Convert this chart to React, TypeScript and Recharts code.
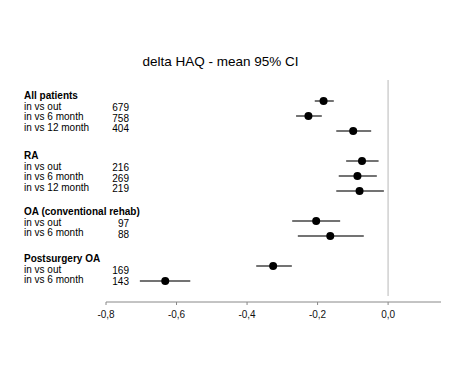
import { ErrorBar, ReferenceLine, Scatter, ScatterChart, XAxis, YAxis } from "recharts"

const groups = ["All patients", "RA", "OA (conventional rehab)", "Postsurgery OA"]
const groupSizes = [3, 3, 2, 2]
const comparisons = [
  "in vs out", "in vs 6 month", "in vs 12 month",
  "in vs out", "in vs 6 month", "in vs 12 month",
  "in vs out", "in vs 6 month",
  "in vs out", "in vs 6 month",
]
const counts = [679, 758, 404, 216, 269, 219, 97, 88, 169, 143]
const means = [-0.183, -0.226, -0.099, -0.074, -0.087, -0.081, -0.204, -0.164, -0.326, -0.632]
const lower = [-0.208, -0.261, -0.147, -0.119, -0.14, -0.147, -0.272, -0.256, -0.374, -0.704]
const upper = [-0.154, -0.188, -0.048, -0.027, -0.032, -0.012, -0.136, -0.069, -0.273, -0.561]
const xTicks = [-0.8, -0.6, -0.4, -0.2, 0]

// row index for each estimate, with a blank row between groups
const rowIndex: number[] = []
let r = 1
groupSizes.forEach((n) => {
  for (let i = 0; i < n; i++) rowIndex.push(r++)
  r++
})

const data = means.map((m, i) => ({
  mean: m,
  row: rowIndex[i],
  err: [m - lower[i], upper[i] - m],
}))

const W = 473
const H = 384
const font = "'Liberation Sans', Arial, sans-serif"
const headerY = [95, 155, 211, 258]

const Dot = (props: any) => <circle cx={props.cx} cy={props.cy} r={4} fill="#000" />

export default function App() {
  let k = 0
  const labels = groups.map((g, gi) => {
    const items = []
    for (let j = 0; j < groupSizes[gi]; j++) {
      const y = headerY[gi] + 10.5 * (j + 1) + 0.5
      items.push(
        <text key={"l" + k} x={24} y={y} dominantBaseline="central">
          {comparisons[k]}
        </text>,
        <text key={"n" + k} x={129} y={y + 1.5} textAnchor="end" dominantBaseline="central">
          {counts[k]}
        </text>
      )
      k++
    }
    return (
      <g key={g}>
        <text x={24} y={headerY[gi]} fontWeight="bold" dominantBaseline="central">
          {g}
        </text>
        {items}
      </g>
    )
  })

  return (
    <div style={{ position: "absolute", left: 0, top: 0, width: W, height: H, background: "#fff" }}>
      <ScatterChart width={W} height={H} margin={{ top: 80, right: 32, bottom: 52, left: 106 }}>
        <XAxis
          type="number"
          dataKey="mean"
          domain={[-0.8, 0.15]}
          ticks={xTicks}
          allowDataOverflow
          height={30}
          stroke="#888"
          tickSize={3}
          tickMargin={6}
          tick={{ fill: "#111", fontSize: 10, fontFamily: font }}
          tickFormatter={(v: number) => v.toFixed(1).replace(".", ",")}
        />
        <YAxis type="number" dataKey="row" domain={[-0.4, 14.4]} reversed hide />
        <ReferenceLine
          segment={[{ x: 0, y: -0.4 }, { x: 0, y: 14 }]}
          stroke="#d0d0d0"
          strokeWidth={1.5}
        />
        <Scatter data={data} shape={Dot} isAnimationActive={false}>
          <ErrorBar dataKey="err" direction="x" width={0} stroke="#444" strokeWidth={1.5} />
        </Scatter>
      </ScatterChart>
      <svg
        width={W}
        height={H}
        style={{ position: "absolute", left: 0, top: 0, pointerEvents: "none" }}
        fontFamily={font}
        fontSize={10}
        fill="#000"
      >
        <text x={220.5} y={61} textAnchor="middle" dominantBaseline="central" fontSize={13.5}>
          delta HAQ - mean 95% CI
        </text>
        {labels}
      </svg>
    </div>
  )
}
